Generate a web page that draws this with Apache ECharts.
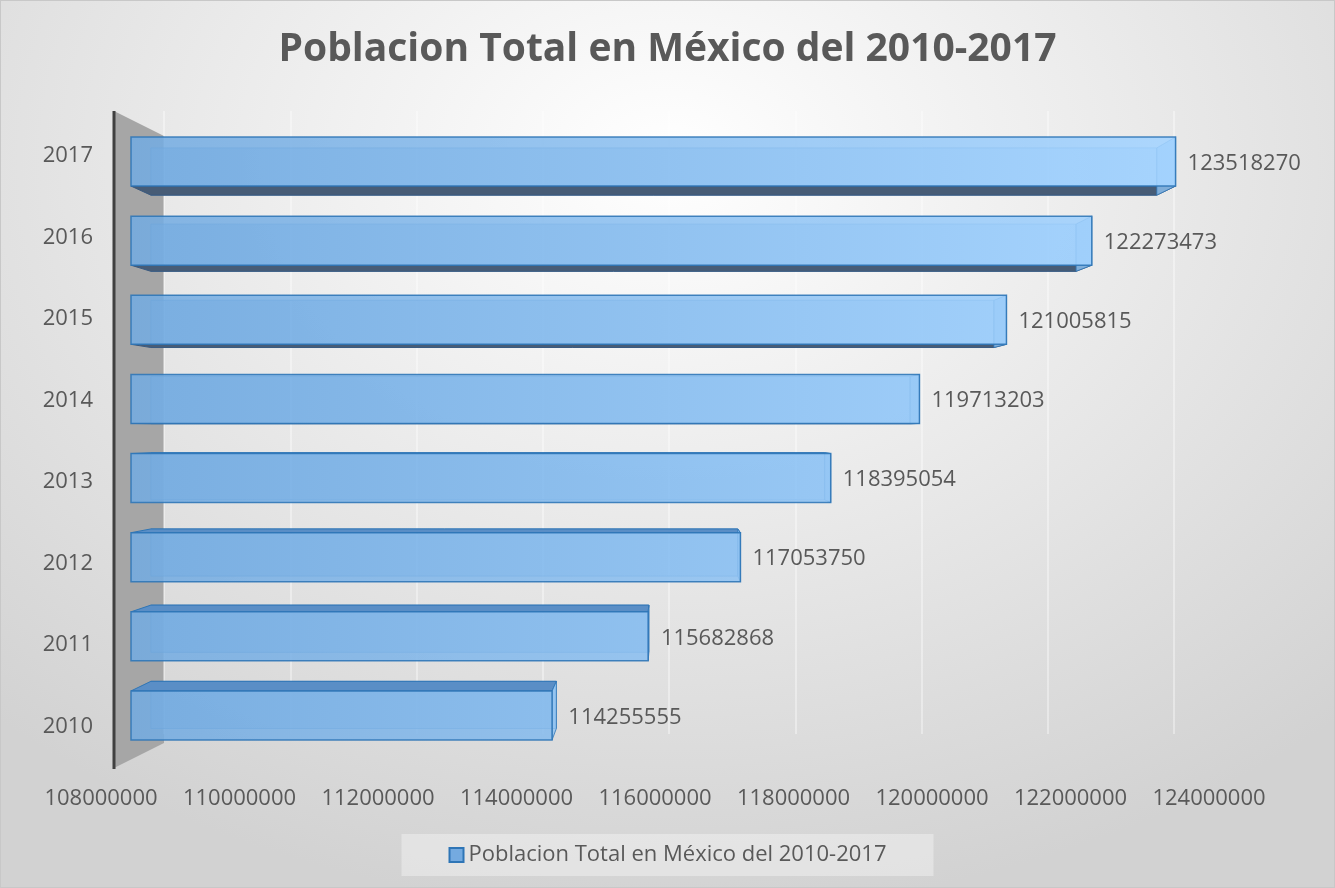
<!DOCTYPE html>
<html>
<head>
<meta charset="utf-8">
<title>Poblacion Total en México</title>
<script src="https://cdn.jsdelivr.net/npm/echarts@6/dist/echarts.min.js"></script>
<style>
    html, body { margin: 0; padding: 0; }
    #main {
        width: 1335px; height: 888px; box-sizing: border-box;
        border: 1px solid #c8c8c8;
        background: radial-gradient(ellipse 75% 85% at 50% 18%, #ffffff 0%, #ebebeb 45%, #d2d2d2 100%);
    }
</style>
</head>
<body>
<div id="main"></div>
<script>
const years = ['2010', '2011', '2012', '2013', '2014', '2015', '2016', '2017'];
const poblacion = [114255555, 115682868, 117053750, 118395054, 119713203, 121005815, 122273473, 123518270];
const xMin = 108000000;
const xMax = 124000000;
const xStep = 2000000;
const seriesName = 'Poblacion Total en México del 2010-2017';

const font = '"Open Sans", "Liberation Sans", sans-serif';
const grey = '#595959';

// punto de fuga aproximado del 3D de Excel
const vx = 667, vy = 430, k = 0.037;

function renderBar(params, api) {
    let v = api.value(0), c = api.value(1);
    let p0 = api.coord([xMin, c]);
    let p1 = api.coord([v, c]);
    let h = 49;
    let x0 = p0[0], x1 = p1[0], y0 = p0[1] - h / 2, y1 = p0[1] + h / 2;
    let bk = (x, y) => [x + k * (vx - x), y + k * (vy - y)];
    let b00 = bk(x0, y0), b10 = bk(x1, y0), b11 = bk(x1, y1), b01 = bk(x0, y1);
    let fill = {
        type: 'linear', x: 130, y: 0, x2: 1180, y2: 0, global: true,
        colorStops: [{ offset: 0, color: '#74abe0' }, { offset: 1, color: '#a3d3ff' }]
    };
    let children = [];
    children.push({
        type: 'polygon', shape: { points: [b00, b10, b11, b01] },
        style: { fill: fill, stroke: '#2e75b6', lineWidth: 1, opacity: 0.6 }
    });
    if (y0 > vy) {
        children.push({
            type: 'polygon', shape: { points: [[x0, y0], [x1, y0], b10, b00] },
            style: { fill: '#5a8ec6', stroke: '#2e75b6', lineWidth: 1 }
        });
    } else {
        children.push({
            type: 'polygon', shape: { points: [[x0, y1], [x1, y1], b11, b01] },
            style: { fill: '#475c76', stroke: '#3a5a80', lineWidth: 1 }
        });
    }
    children.push({
        type: 'polygon', shape: { points: [[x1, y0], b10, b11, [x1, y1]] },
        style: { fill: '#8fc3f3', stroke: '#2e75b6', lineWidth: 1, opacity: 0.8 }
    });
    children.push({
        type: 'rect', shape: { x: x0, y: y0, width: x1 - x0, height: h },
        style: { fill: fill, stroke: '#2e75b6', lineWidth: 1.5, opacity: 0.88 }
    });
    children.push({
        type: 'text',
        style: {
            text: String(v), x: Math.max(x1, b10[0]) + 12, y: p0[1] + 2,
            verticalAlign: 'middle', align: 'left',
            font: '22px ' + font, fill: grey
        }
    });
    return { type: 'group', children: children };
}

let myChart = echarts.init(document.getElementById('main'));
let option = {
    animation: false,
    title: {
        text: seriesName,
        left: 'center',
        top: 29,
        padding: 0,
        textStyle: { fontSize: 39, fontWeight: 'bold', color: grey, fontFamily: font }
    },
    legend: {
        data: [seriesName],
        bottom: 11,
        left: 'center',
        backgroundColor: 'rgba(255,255,255,0.35)',
        padding: [10, 47],
        itemWidth: 14,
        itemHeight: 14,
        icon: 'rect',
        textStyle: { fontSize: 22, color: grey, fontFamily: font }
    },
    graphic: [
        {
            type: 'polygon', z: 0,
            shape: { points: [[113, 110], [163, 135], [163, 742], [113, 767]] },
            style: { fill: '#a6a6a6' }
        },
        {
            type: 'line', z: 0,
            shape: { x1: 113, y1: 110, x2: 113, y2: 768 },
            style: { stroke: '#404040', lineWidth: 3 }
        }
    ],
    grid: [
        { left: 130, right: 126, top: 121, bottom: 132 },   // barras
        { left: 100, right: 125, top: 114, bottom: 120 },   // etiquetas
        { left: 163, right: 160, top: 110, bottom: 153 }    // pared del fondo
    ],
    xAxis: [
        {
            type: 'value', gridIndex: 0, min: xMin, max: xMax, interval: xStep,
            axisLabel: { show: false }, axisLine: { show: false },
            axisTick: { show: false }, splitLine: { show: false }
        },
        {
            type: 'value', gridIndex: 1, min: xMin, max: xMax, interval: xStep,
            axisLine: { show: false }, axisTick: { show: false }, splitLine: { show: false },
            axisLabel: { fontSize: 22, color: grey, fontFamily: font, margin: 21, formatter: v => String(v) }
        },
        {
            type: 'value', gridIndex: 2, min: xMin, max: xMax, interval: xStep,
            axisLabel: { show: false }, axisLine: { show: false }, axisTick: { show: false },
            splitLine: { show: true, lineStyle: { color: 'rgba(255,255,255,0.5)', width: 1.5 } }
        }
    ],
    yAxis: [
        {
            type: 'category', gridIndex: 0, data: years,
            axisLabel: { show: false }, axisLine: { show: false }, axisTick: { show: false }
        },
        {
            type: 'category', gridIndex: 1, data: years,
            axisLine: { show: false }, axisTick: { show: false },
            axisLabel: { fontSize: 22, color: grey, fontFamily: font, margin: 8 }
        },
        {
            type: 'category', gridIndex: 2, data: years, show: false
        }
    ],
    series: [
        {
            name: seriesName,
            type: 'custom',
            xAxisIndex: 0,
            yAxisIndex: 0,
            z: 3,
            renderItem: renderBar,
            itemStyle: { color: '#74aae0', borderColor: '#2e75b6', borderWidth: 1.5 },
            encode: { x: 0, y: 1 },
            data: poblacion.map((v, i) => [v, i])
        }
    ]
};
myChart.setOption(option);
</script>
</body>
</html>
